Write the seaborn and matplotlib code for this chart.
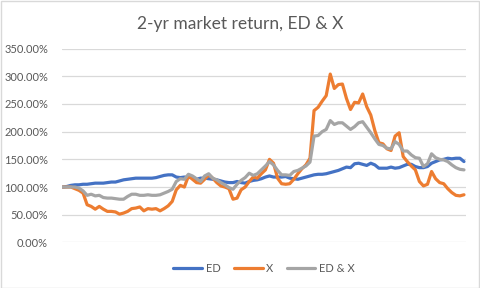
import numpy as np
import pandas as pd
import seaborn as sns
import matplotlib
matplotlib.use("Agg")
import matplotlib.pyplot as plt
from matplotlib.patches import Rectangle
from matplotlib.ticker import FuncFormatter

ed = [100, 101, 103, 104, 104, 105, 105, 106, 107, 107,
      107, 108, 109, 109, 111, 113, 114, 115, 116, 116,
      116, 116, 116, 117, 119, 121, 122, 122, 118, 117,
      118, 117, 118, 114, 116, 116, 115, 114, 113, 111,
      109, 108, 108, 110, 108, 107, 110, 112, 113, 115,
      118, 120, 118, 118, 118, 119, 116, 115, 114, 116,
      118, 120, 122, 123, 123, 124, 126, 128, 130, 133,
      136, 135, 142, 143, 141, 139, 143, 140, 134, 134,
      134, 136, 134, 135, 138, 141, 141, 137, 135, 135,
      137, 143, 146, 149, 150, 152, 151, 152, 152, 146]

x_only = [100, 100, 100, 97, 94, 89, 68, 65, 60, 65,
          60, 56, 56, 55, 51, 53, 56, 61, 62, 64,
          57, 61, 60, 61, 57, 61, 66, 74, 95, 103,
          100, 120, 114, 108, 107, 114, 122, 116, 108, 102,
          100, 97, 78, 80, 95, 100, 110, 118, 116, 124,
          131, 150, 143, 116, 106, 105, 106, 114, 124, 133,
          140, 152, 238, 244, 255, 265, 304, 278, 285, 286,
          260, 240, 253, 252, 268, 245, 230, 202, 180, 178,
          169, 166, 192, 198, 155, 146, 138, 131, 110, 102,
          105, 128, 115, 108, 106, 97, 90, 85, 84, 86]

ed_x = [100, 100, 100, 100, 98, 93, 85, 87, 84, 85,
        81, 80, 80, 79, 78, 78, 83, 87, 87, 85,
        85, 86, 85, 85, 86, 89, 92, 96, 110, 115,
        114, 123, 120, 115, 110, 120, 124, 116, 113, 108,
        104, 99, 96, 105, 112, 117, 125, 121, 124, 131,
        138, 146, 140, 130, 122, 122, 121, 128, 130, 134,
        138, 145, 192, 193, 200, 204, 220, 213, 216, 216,
        210, 204, 209, 216, 218, 208, 198, 187, 177, 175,
        170, 169, 182, 177, 165, 165, 158, 153, 152, 137,
        142, 160, 153, 150, 149, 146, 140, 135, 132, 131]

series_names = ["ED", "X", "ED & X"]
colors = ["#4472C4", "#ED7D31", "#A5A5A5"]
title = "2-yr market return, ED & X"

n = len(ed)
df = pd.DataFrame({
    "t": list(range(n)) * 3,
    "value": ed + x_only + ed_x,
    "series": [series_names[0]] * n + [series_names[1]] * n + [series_names[2]] * n,
})

sns.set_theme(style="white")
plt.rcParams["font.family"] = ["Lato", "DejaVu Sans"]

fig = plt.figure(figsize=(4.8, 2.88), dpi=100)
ax = fig.add_axes([62 / 480, 1 - 242.4 / 288, (466 - 62) / 480, (242.4 - 48.6) / 288])

sns.lineplot(data=df, x="t", y="value", hue="series", palette=colors,
             hue_order=series_names, linewidth=2.3, ax=ax, legend=True)

ax.set_ylim(0, 350)
ax.set_xlim(-0.2, n - 0.5)
ax.set_yticks(np.arange(0, 351, 50))
ax.yaxis.set_major_formatter(FuncFormatter(lambda v, p: f"{v:.2f}%"))
ax.set_xticks([])
ax.set_xlabel("")
ax.set_ylabel("")
ax.grid(axis="y", color="#D9D9D9", linewidth=0.9)
ax.set_axisbelow(True)
for s in ax.spines.values():
    s.set_visible(False)
ax.tick_params(axis="y", length=0, pad=10, labelsize=8, labelcolor="#595959")

fig.text(240 / 480, 1 - 24 / 288, title, ha="center", va="center",
         fontsize=12.5, color="#595959")

leg = ax.legend(loc="center", bbox_to_anchor=(0.5, -0.135), ncol=3, frameon=False,
                fontsize=8, handlelength=2.6, handletextpad=0.3, columnspacing=1.2)
for t in leg.get_texts():
    t.set_color("#595959")
for l in leg.get_lines():
    l.set_linewidth(2.3)

fig.patches.append(Rectangle((0.5 / 480, 0.5 / 288), 1 - 1.5 / 480, 1 - 1.5 / 288,
                             transform=fig.transFigure, fill=False,
                             edgecolor="#D9D9D9", linewidth=1))

fig.savefig("out.png", dpi=100)
